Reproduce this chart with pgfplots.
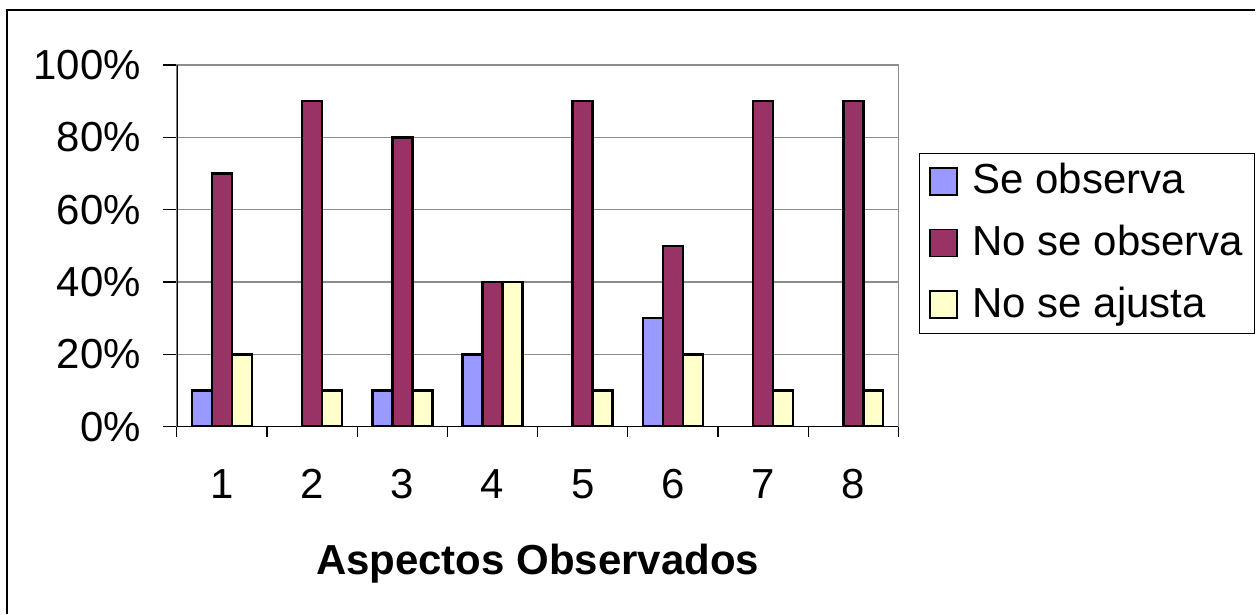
\documentclass[border=0pt]{standalone}
\usepackage{pgfplots}
\pgfplotsset{compat=1.18}
\usepackage{fontspec}
\setmainfont{Liberation Sans}

\definecolor{seobs}{HTML}{9999FF}
\definecolor{noobs}{HTML}{993366}
\definecolor{noaj}{HTML}{FFFFCC}
\definecolor{gridgray}{HTML}{8C8C8C}

\begin{document}
\fontsize{42}{50}\selectfont
\begin{tikzpicture}
  % page size and outer frame (only left and top edges show)
  \path (-177pt,-187pt) rectangle (1079pt,427pt);
  \draw[line width=1.8pt] (-170pt,-187pt) -- (-170pt,417pt) -- (1079pt,417pt);
  \begin{axis}[
    at={(0pt,0pt)}, anchor=origin,
    scale only axis,
    width=722pt, height=362pt,
    xmin=0.5, xmax=8.5,
    ymin=0, ymax=100,
    ybar=0pt, bar width=20pt,
    axis line style={gridgray, line width=1.5pt},
    xtick={1,...,8},
    xtick pos=bottom,
    xtick style={draw=none},
    extra x ticks={0.5,1.5,...,8.5},
    extra x tick labels={},
    extra x tick style={xtick style={draw=black, line width=1.2pt}, major tick length=10pt, grid=none},
    xticklabel style={anchor=base, yshift=-58pt},
    ytick={0,20,...,100},
    ytick pos=left,
    tick align=outside,
    major tick length=14pt,
    ytick style={black, line width=1.2pt},
    yticklabel={\pgfmathprintnumber{\tick}\%},
    yticklabel style={anchor=east, xshift=-8pt},
    /pgf/number format/assume math mode=true,
    ymajorgrids,
    grid style={gridgray, line width=1.5pt},
    xlabel={\bfseries Aspectos Observados},
    xlabel style={at={(axis description cs:0.5,0)}, anchor=center, yshift=-137pt},
    legend style={at={(1.029,0.757)}, anchor=north west,
      draw=black, line width=1.2pt, inner xsep=9pt, inner ysep=8pt,
      row sep=21pt, column sep=13pt,
      nodes={inner sep=2pt, anchor=west}},
    legend cell align=left,
    legend image code/.code={\draw[#1, line width=1.8pt] (0pt,-13pt) rectangle (27pt,14pt);},
  ]
    \addplot[fill=seobs, draw=black, line width=2.5pt] coordinates {(1,10) (3,10) (4,20) (6,30)};
    \addplot[fill=noobs, draw=black, line width=2.5pt] coordinates {(1,70) (2,90) (3,80) (4,40) (5,90) (6,50) (7,90) (8,90)};
    \addplot[fill=noaj, draw=black, line width=2.5pt] coordinates {(1,20) (2,10) (3,10) (4,40) (5,10) (6,20) (7,10) (8,10)};
    \legend{Se observa, No se observa, No se ajusta}
    \draw[black, line width=1.5pt] (rel axis cs:0,1) -- (rel axis cs:0,0) -- (rel axis cs:1,0);
  \end{axis}
\end{tikzpicture}
\end{document}
